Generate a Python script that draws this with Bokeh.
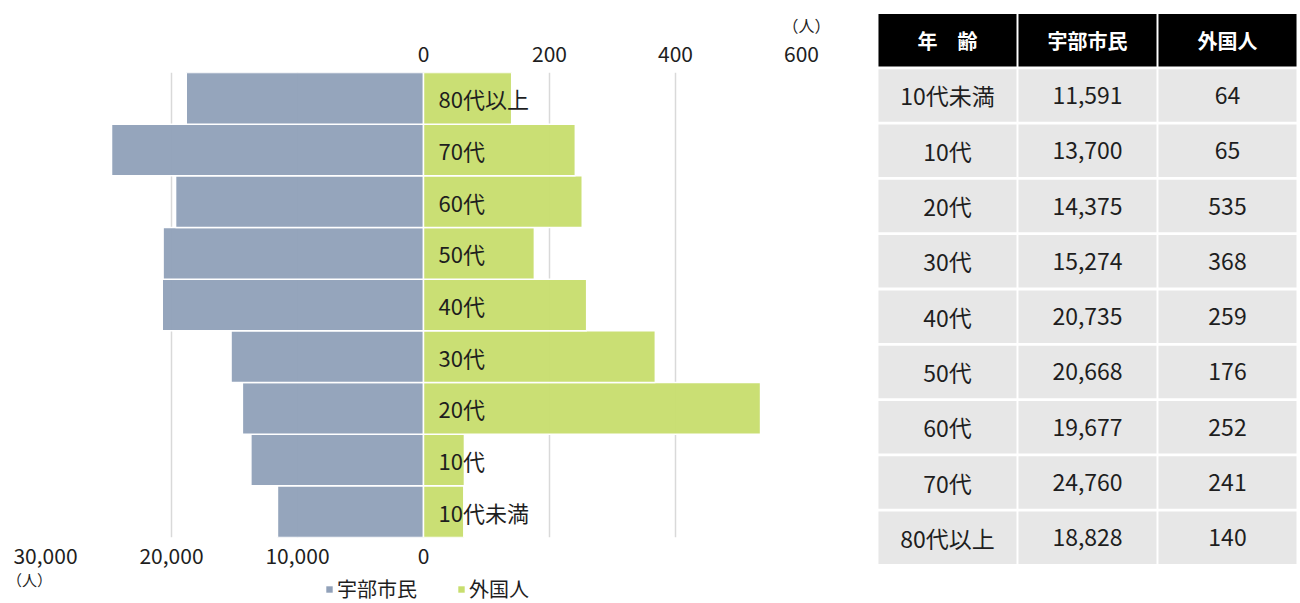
from bokeh.plotting import figure
from bokeh.models import (Range1d, FactorRange, LinearAxis, FixedTicker, Legend,
                          LegendItem, Title, Label, ColumnDataSource)
from bokeh.layouts import row, column
from bokeh.core.properties import value
from bokeh.embed import file_html
from bokeh.resources import INLINE

# ---- data ----
ages = ["10代未満", "10代", "20代", "30代", "40代", "50代", "60代", "70代", "80代以上"]
citizens = [11591, 13700, 14375, 15274, 20735, 20668, 19677, 24760, 18828]
foreigners = [64, 65, 535, 368, 259, 176, 252, 241, 140]
series_names = ["宇部市民", "外国人"]
bottom_ticks = [-30000, -20000, -10000, 0]
bottom_labels = ["30,000", "20,000", "10,000", "0"]
top_ticks = [0, 200, 400, 600]
grid_ticks = [-30000, -20000, -10000, 10000, 20000, 30000]
table_header = ["年　齢", "宇部市民", "外国人"]
unit_label = "（人）"

FONT = "Noto Sans CJK JP"
BLUE = "#91a1b9"
GREEN = "#c8de6e"
TXT = "#1e1e1e"

# ---- butterfly chart ----
p = figure(width=860, height=569, x_range=Range1d(-30000, 30000),
           y_range=FactorRange(factors=ages, range_padding=0),
           output_backend="svg", toolbar_location=None,
           min_border_left=45, min_border_right=59, min_border_top=72, min_border_bottom=32,
           x_axis_location="below", y_axis_location=None)
p.frame_align = False
p.outline_line_color = None
p.extra_x_ranges = {"foreign": Range1d(-600, 600)}

p.ygrid.visible = False
p.xgrid.ticker = FixedTicker(ticks=grid_ticks)
p.xgrid.grid_line_color = "#d9d9d9"
p.xgrid.grid_line_width = 1.5

bottom = p.below[0]
bottom.ticker = FixedTicker(ticks=bottom_ticks)
bottom.major_label_overrides = dict(zip(bottom_ticks, bottom_labels))

top = LinearAxis(x_range_name="foreign", ticker=FixedTicker(ticks=top_ticks))
p.add_layout(top, "above")

for ax in (bottom, top):
    ax.axis_line_color = None
    ax.major_tick_line_color = None
    ax.minor_tick_line_color = None
    ax.major_label_text_font = FONT
    ax.major_label_text_font_size = "21px"
    ax.major_label_text_color = TXT
top.major_label_standoff = 5
bottom.major_label_standoff = 4

src = ColumnDataSource(dict(age=ages,
                            cit=[-c for c in citizens],
                            zero=[0] * len(ages),
                            fo=foreigners))
r1 = p.hbar(y="age", left="cit", right="zero", height=1.0, source=src,
            fill_color=BLUE, fill_alpha=0.96, line_color="white", line_width=1.5)
r2 = p.hbar(y="age", left="zero", right="fo", height=1.0, source=src,
            fill_color=GREEN, fill_alpha=0.96, line_color="white", line_width=1.5,
            x_range_name="foreign")
p.text(x="zero", y="age", text="age", source=src, x_range_name="foreign",
       x_offset=15, text_baseline="middle", text_align="left",
       text_font=value(FONT), text_font_size="22px", text_color=TXT)

p.add_layout(Title(text=unit_label, align="right", offset=-29, standoff=12,
                   text_font=FONT, text_font_size="16px", text_font_style="normal",
                   text_color=TXT), "above")

# ---- legend strip under the chart (pixel-based layout strip) ----
lg = figure(width=860, height=34, x_range=Range1d(0, 860), y_range=Range1d(0, 34),
            output_backend="svg", toolbar_location=None,
            min_border_left=0, min_border_right=0, min_border_top=0, min_border_bottom=0,
            x_axis_location=None, y_axis_location=None)
lg.frame_align = False
lg.outline_line_color = None
lg.xgrid.visible = False
lg.ygrid.visible = False
# zero-width placeholder bars that only carry the legend swatch styles
e1 = lg.hbar(y=[0], left=[0], right=[0], height=0, fill_color=BLUE, line_color=None)
e2 = lg.hbar(y=[0], left=[0], right=[0], height=0, fill_color=GREEN, line_color=None)
legend = Legend(items=[LegendItem(label=series_names[0], renderers=[e1]),
                       LegendItem(label=series_names[1], renderers=[e2])],
                orientation="horizontal", location=(325, 0),
                border_line_color=None, background_fill_alpha=0,
                label_text_font=FONT, label_text_font_size="20px",
                label_text_color=TXT, glyph_width=8, glyph_height=8,
                label_height=20, spacing=40, padding=0, margin=0, label_standoff=4)
lg.add_layout(legend, "center")
lg.add_layout(Label(x=29, y=24, text=unit_label,
                    text_align="center", text_baseline="middle",
                    text_font=FONT, text_font_size="15px", text_color=TXT))

# ---- table ----
row_factors = ["header"] + ages
t = figure(width=440, height=603,
           x_range=FactorRange(factors=table_header, range_padding=0),
           y_range=FactorRange(factors=list(reversed(row_factors)), range_padding=0),
           output_backend="svg", toolbar_location=None,
           min_border_left=17, min_border_right=3, min_border_top=12, min_border_bottom=38,
           x_axis_location=None, y_axis_location=None)
t.frame_align = False
t.outline_line_color = None
t.xgrid.visible = False
t.ygrid.visible = False

hx, hy = [], []
for c in table_header:
    hx.append(c)
    hy.append("header")
t.rect(x=hx, y=hy, width=0.986, height=0.95, fill_color="black", line_color=None)
t.text(x=hx, y=hy, text=table_header, text_align="center", text_baseline="middle",
       text_font=value(FONT), text_font_size="20px", text_font_style="bold",
       text_color="white")

bx, by, btxt = [], [], []
for a, c, f in zip(ages, citizens, foreigners):
    for col, s in zip(table_header, [a, f"{c:,}", f"{f:,}"]):
        bx.append(col)
        by.append(a)
        btxt.append(s)
t.rect(x=bx, y=by, width=0.986, height=0.95, fill_color="#e7e7e7", line_color=None)
t.text(x=bx, y=by, text=btxt, text_align="center", text_baseline="middle",
       text_font=value(FONT), text_font_size="23px", text_color=TXT)

layout = row(column(p, lg), t)
open("out.html", "w").write(file_html(layout, INLINE))
